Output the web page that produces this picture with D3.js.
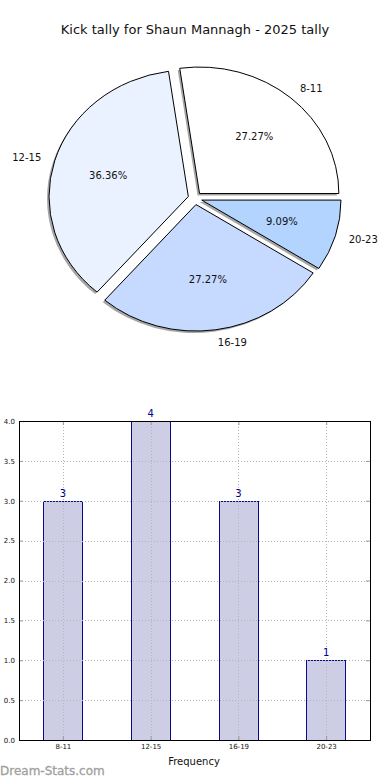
<!DOCTYPE html>
<html>
<head>
<meta charset="utf-8">
<script src="https://cdn.jsdelivr.net/npm/d3@7"></script>
<style>
  body { margin: 0; background: #fff; }
  text { font-family: "DejaVu Sans", sans-serif; }
</style>
</head>
<body>
<div id="chart"></div>
<script>

// data
var categories = ["8-11", "12-15", "16-19", "20-23"];
var counts = [3, 4, 3, 1];
var sliceColors = ["#ffffff", "#eaf1ff", "#c6d9ff", "#b3d4ff"];
var yTicks = [0, 0.5, 1, 1.5, 2, 2.5, 3, 3.5, 4];
var title = "Kick tally for Shaun Mannagh - 2025 tally";

var W = 390, H = 780;
var svg = d3.select("#chart").append("svg")
    .attr("width", W).attr("height", H);

svg.append("text")
    .attr("x", 195).attr("y", 34)
    .attr("text-anchor", "middle")
    .attr("font-size", 13)
    .attr("fill", "#111")
    .text(title);

// ---- pie ----
var cx = 195, cy = 198.3, rx = 139.3, ry = 126.5, explode = 0.05;
var total = d3.sum(counts);

// counter clockwise from 3 o'clock, like the original
var pie = d3.pie().sort(null)
    .startAngle(Math.PI / 2)
    .endAngle(Math.PI / 2 - 2 * Math.PI);
var slices = pie(counts);
var arc = d3.arc().innerRadius(0).outerRadius(rx);

function mid(d) { return (d.startAngle + d.endAngle) / 2; }
function off(d) {
  var a = mid(d);
  return "translate(" + (explode * rx * Math.sin(a)) + "," + (-explode * rx * Math.cos(a)) + ")";
}

var shadow = svg.append("g")
    .attr("transform", "translate(" + (cx - 2) + "," + (cy + 2) + ") scale(1," + (ry / rx) + ")");
shadow.selectAll("path").data(slices).enter().append("path")
    .attr("transform", off)
    .attr("d", arc)
    .attr("fill", "#808080")
    .attr("fill-opacity", 0.7);

var pg = svg.append("g")
    .attr("transform", "translate(" + cx + "," + cy + ") scale(1," + (ry / rx) + ")");
pg.selectAll("path").data(slices).enter().append("path")
    .attr("transform", off)
    .attr("d", arc)
    .attr("fill", function(d, i) { return sliceColors[i]; })
    .attr("stroke", "#000")
    .attr("stroke-width", 1)
    .attr("vector-effect", "non-scaling-stroke");

// labels outside, percentages inside
slices.forEach(function(d, i) {
  var a = mid(d), sx = Math.sin(a), sy = -Math.cos(a);
  var lx = cx + rx * (explode + 1.1) * sx;
  var ly = cy + ry * (explode + 1.1) * sy;
  svg.append("text")
      .attr("x", lx).attr("y", ly)
      .attr("dy", "0.35em")
      .attr("text-anchor", sx > 0 ? "start" : "end")
      .attr("font-size", 10)
      .attr("fill", "#111")
      .text(categories[i]);
  var px = cx + rx * (explode + 0.6) * sx;
  var py = cy + ry * (explode + 0.6) * sy;
  svg.append("text")
      .attr("x", px).attr("y", py)
      .attr("dy", "0.35em")
      .attr("text-anchor", "middle")
      .attr("font-size", 10)
      .attr("fill", "#111")
      .text((counts[i] / total * 100).toFixed(2) + "%");
});

// ---- bars ----
var pLeft = 19, pRight = 370, pTop = 421, pBottom = 740;
var x = d3.scaleLinear().domain([-0.5, categories.length - 0.5]).range([pLeft, pRight]);
var y = d3.scaleLinear().domain([0, 4]).range([pBottom, pTop]);
var bw = x(0.45) - x(0);

var grid = svg.append("g")
    .attr("stroke", "#b4b4b4").attr("stroke-width", 1).attr("stroke-dasharray", "1,2");
grid.selectAll(".gy").data(yTicks).enter().append("line")
    .attr("x1", pLeft).attr("x2", pRight)
    .attr("y1", function(d) { return Math.round(y(d)) + 0.5; })
    .attr("y2", function(d) { return Math.round(y(d)) + 0.5; });

svg.selectAll(".bar").data(counts).enter().append("rect")
    .attr("x", function(d, i) { return Math.round(x(i) - bw / 2) + 0.5; })
    .attr("y", function(d) { return Math.round(y(d)) + 0.5; })
    .attr("width", Math.round(bw))
    .attr("height", function(d) { return Math.round(y(0)) - Math.round(y(d)); })
    .attr("fill", "#cdcde6")
    .attr("stroke", "#0a0a8c")
    .attr("stroke-width", 1);

// vertical grid lines drawn over bars, as in the original
grid.raise();
grid.selectAll(".gx").data(categories).enter().append("line")
    .attr("x1", function(d, i) { return Math.round(x(i)) + 0.5; })
    .attr("x2", function(d, i) { return Math.round(x(i)) + 0.5; })
    .attr("y1", pTop).attr("y2", pBottom);

svg.selectAll(".val").data(counts).enter().append("text")
    .attr("x", function(d, i) { return x(i); })
    .attr("y", function(d) { return y(d) - 4; })
    .attr("text-anchor", "middle")
    .attr("font-size", 10)
    .attr("fill", "#00008b")
    .text(function(d) { return d; });

// axes: ticks point inwards, on all four sides
var axL = svg.append("g").attr("transform", "translate(" + pLeft + ",0)")
    .call(d3.axisLeft(y).tickValues(yTicks).tickSizeInner(-4).tickSizeOuter(0).tickPadding(4)
      .tickFormat(d3.format(".1f")));
var axR = svg.append("g").attr("transform", "translate(" + pRight + ",0)")
    .call(d3.axisRight(y).tickValues(yTicks).tickSizeInner(-4).tickSizeOuter(0).tickFormat(""));
var axB = svg.append("g").attr("transform", "translate(0," + pBottom + ")")
    .call(d3.axisBottom(x).tickValues(d3.range(categories.length)).tickSizeInner(-4).tickSizeOuter(0).tickPadding(4)
      .tickFormat(function(d) { return categories[d]; }));
var axT = svg.append("g").attr("transform", "translate(0," + pTop + ")")
    .call(d3.axisTop(x).tickValues(d3.range(categories.length)).tickSizeInner(-4).tickSizeOuter(0).tickFormat(""));

[axL, axR, axB, axT].forEach(function(ax) {
  ax.select(".domain").remove();
  ax.selectAll("line").attr("stroke", "#999");
  ax.selectAll("text").attr("font-family", "DejaVu Sans").attr("font-size", 7).attr("fill", "#111");
});

svg.append("rect")
    .attr("x", pLeft + 0.5).attr("y", pTop + 0.5)
    .attr("width", pRight - pLeft).attr("height", pBottom - pTop)
    .attr("fill", "none").attr("stroke", "#000").attr("stroke-width", 1);

svg.append("text")
    .attr("x", 194).attr("y", 765)
    .attr("text-anchor", "middle")
    .attr("font-size", 10)
    .attr("fill", "#111")
    .text("Frequency");

svg.append("text")
    .attr("x", 0).attr("y", 775)
    .attr("font-size", 12)
    .attr("stroke", "#a0a0a0")
    .attr("stroke-width", 0.3)
    .attr("fill", "#a0a0a0")
    .text("Dream-Stats.com");

</script>
</body>
</html>
